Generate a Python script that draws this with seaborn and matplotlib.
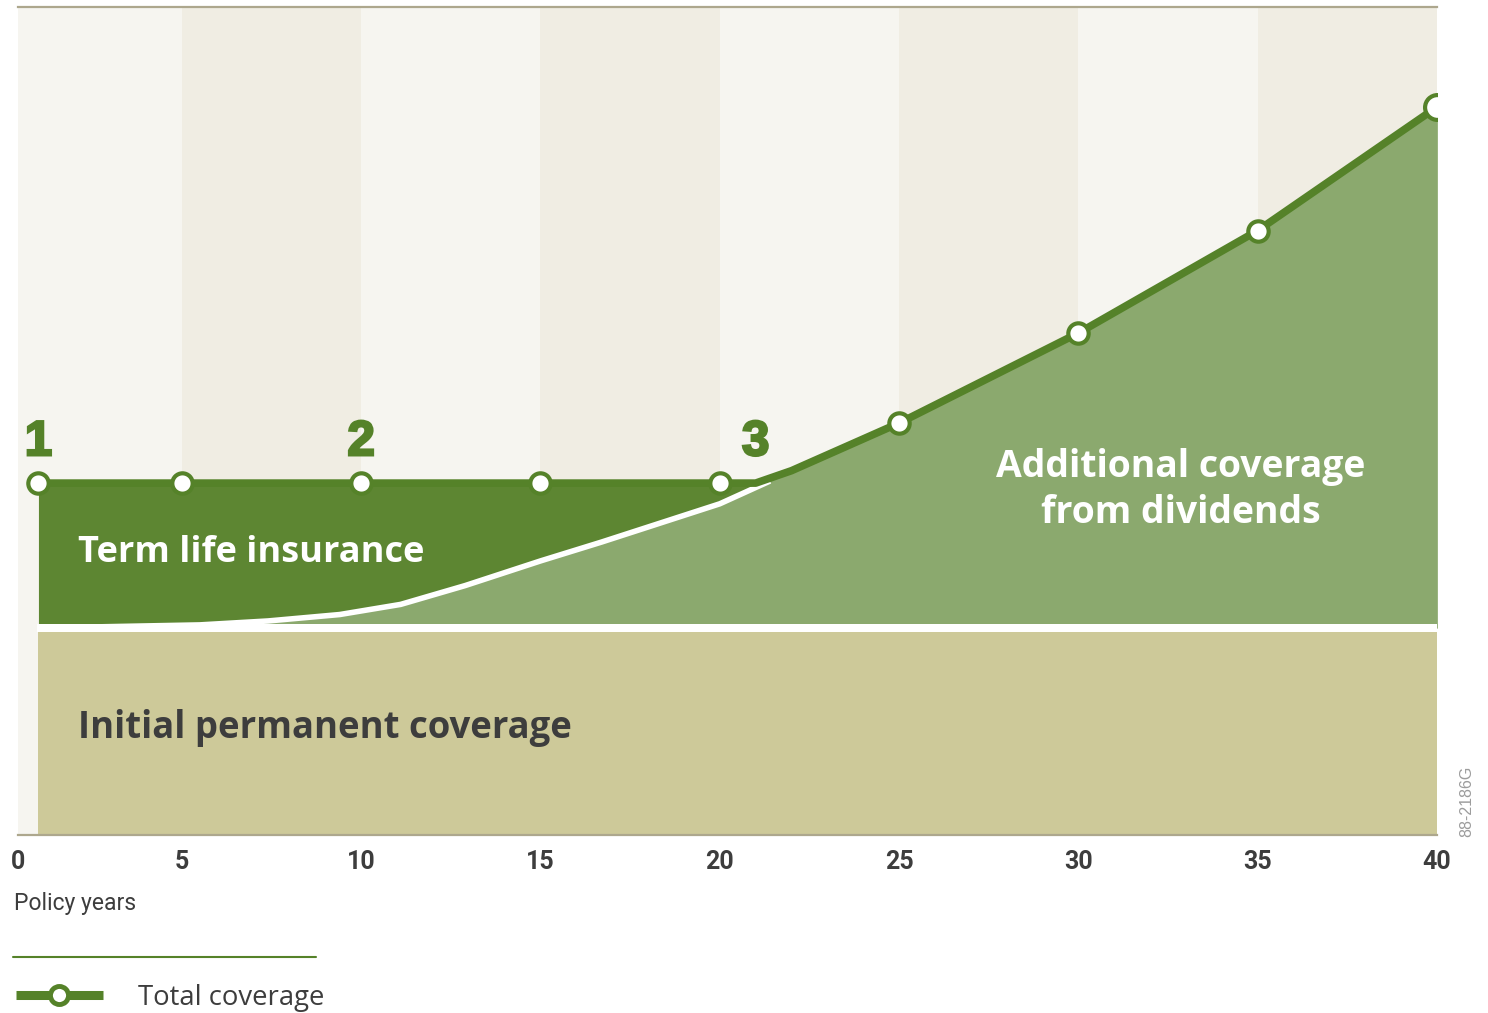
import matplotlib
matplotlib.use("Agg")
import matplotlib.pyplot as plt
from matplotlib.lines import Line2D
import matplotlib.patheffects as pe
import numpy as np
import pandas as pd
import seaborn as sns

# ---- data (coverage in relative units, initial permanent coverage = 100) ----
permanent_coverage = 100
permanent_years = [1, 40]

total_years = [1, 5, 10, 15, 20, 21, 22, 25, 30, 35, 40]
total_coverage = [170, 170, 170, 170, 170, 170, 176, 199, 242.5, 292, 351.7]

marker_years = [1, 5, 10, 15, 20, 25, 30, 35, 40]

dividend_years = [1, 5.5, 7.4, 9.4, 11.1, 12.9, 15, 16.7, 20, 21.4, 22, 25, 30, 35, 40]
dividend_coverage = [100, 101.5, 103.4, 106.5, 111.4, 120.5, 132.4, 141.5, 160, 171,
                     176, 199, 242.5, 292, 351.7]

milestone_years = [1, 10, 21]
milestone_labels = ["1", "2", "3"]

tick_years = [0, 5, 10, 15, 20, 25, 30, 35, 40]
tick_labels = ["0", "5", "10", "15", "20", "25", "30", "35", "40"]

# ---- colours ----
LINE_GREEN = "#558229"
TERM_GREEN = "#5D8632"
DIV_GREEN = "#8BA96E"
TAN = "#CDC999"
STRIPE_LIGHT = "#F6F5F0"
STRIPE_DARK = "#F0EDE3"
TEXT_GREY = "#3D3D3D"
RULE = "#ADA78D"

sns.set_style("white")
plt.rcParams["font.family"] = ["Open Sans", "DejaVu Sans"]

W, H = 1488, 1013
fig = plt.figure(figsize=(W / 100, H / 100), dpi=100)
ax = fig.add_axes([18 / W, 1 - 835 / H, (1437 - 18) / W, (835 - 7) / H])

x_left = 0.43
ax.set_xlim(x_left, 40)
ax.set_ylim(0, 400)

# alternating five-year bands
edges = [x_left] + tick_years[1:]
for i in range(len(edges) - 1):
    ax.axvspan(edges[i], edges[i + 1], color=STRIPE_LIGHT if i % 2 == 0 else STRIPE_DARK,
               lw=0, zorder=0)

df_total = pd.DataFrame({"year": total_years, "coverage": total_coverage})
df_div = pd.DataFrame({"year": dividend_years, "coverage": dividend_coverage})

# stacked coverage areas
ax.fill_between(permanent_years, 0, permanent_coverage, color=TAN, lw=0, zorder=1)
ax.fill_between(df_total["year"], permanent_coverage, df_total["coverage"],
                color=TERM_GREEN, lw=0, zorder=1)
ax.fill_between(df_div["year"], permanent_coverage, df_div["coverage"],
                color=DIV_GREEN, lw=0, zorder=2)

# white separators
ax.fill_between([0.95, 40], permanent_coverage - 2, permanent_coverage + 2,
                color="white", lw=0, zorder=3)
div_edge = df_div[df_div["year"] <= 21.4]
ax.plot(div_edge["year"], div_edge["coverage"], color="white", lw=4, zorder=3,
        solid_capstyle="butt", solid_joinstyle="round")

# total coverage line with markers
sns.lineplot(data=df_total, x="year", y="coverage", ax=ax, color=LINE_GREEN,
             lw=5.5, zorder=4, legend=False)
df_mark = df_total[df_total["year"].isin(marker_years)]
sns.scatterplot(data=df_mark.iloc[:-1], x="year", y="coverage", ax=ax, s=215,
                color="white", edgecolor=LINE_GREEN, linewidth=3.0, zorder=5,
                legend=False)
sns.scatterplot(data=df_mark.iloc[-1:], x="year", y="coverage", ax=ax, s=320,
                color="white", edgecolor=LINE_GREEN, linewidth=3.0, zorder=5,
                legend=False)

# milestone numbers (heavy numerals)
heavy = [pe.withStroke(linewidth=1.8, foreground=LINE_GREEN, joinstyle="miter")]
for yr, lab in zip(milestone_years, milestone_labels):
    ax.text(yr, 189.5, lab, ha="center", va="center", fontsize=35.5, fontweight="bold",
            color=LINE_GREEN, family=["Liberation Sans", "DejaVu Sans"], zorder=6,
            path_effects=heavy)

# area labels
ax.text(2.1, 131.9, "Term life insurance", ha="left", va="baseline", fontsize=26,
        fontweight="bold", color="white", zorder=6)
ax.text(2.1, 46.9, "Initial permanent coverage", ha="left", va="baseline",
        fontsize=26.3, fontweight="bold", color=TEXT_GREY, zorder=6)
ax.text(32.86, 173, "Additional coverage", ha="center", va="baseline", fontsize=26.9,
        fontweight="bold", color="white", zorder=6)
ax.text(32.86, 150.7, "from dividends", ha="center", va="baseline", fontsize=26.9,
        fontweight="bold", color="white", zorder=6)

# axes styling
for side in ["left", "right"]:
    ax.spines[side].set_visible(False)
for side in ["top", "bottom"]:
    ax.spines[side].set_color(RULE)
    ax.spines[side].set_linewidth(1.6)
    ax.spines[side].set_zorder(7)
ax.set_yticks([])
ax.set_xticks([x_left] + tick_years[1:])
ax.set_xticklabels(tick_labels)
ax.tick_params(axis="x", length=0, pad=11, labelsize=18, labelcolor=TEXT_GREY)
for lab in ax.get_xticklabels():
    lab.set_family(["Roboto", "DejaVu Sans"])
    lab.set_fontweight("bold")
ax.set_xlabel("")
ax.set_ylabel("")

fig.text(14 / W, 1 - 903 / H, "Policy years", ha="left", va="center", fontsize=16.5,
         color=TEXT_GREY, family=["Roboto", "DejaVu Sans"])

# legend
fig.add_artist(Line2D([13 / W, 316 / W], [1 - 957 / H] * 2, color=LINE_GREEN, lw=1.5))
handle = Line2D([], [], color=LINE_GREEN, lw=6.5, marker="o", markersize=13,
                markerfacecolor="white", markeredgecolor=LINE_GREEN,
                markeredgewidth=3.5, solid_capstyle="butt")
fig.legend(handles=[handle], labels=["Total coverage"], loc="center left",
           bbox_to_anchor=(16 / W, 1 - 998 / H), bbox_transform=fig.transFigure,
           frameon=False, fontsize=19.8, handlelength=3.16, handletextpad=1.27,
           borderpad=0, borderaxespad=0, labelcolor=TEXT_GREY)

fig.text(1467 / W, 1 - 801 / H, "88-2186G", rotation=90, ha="center", va="center",
         fontsize=11.5, color="#9C9C9C", family=["Liberation Sans", "DejaVu Sans"])

fig.savefig("out.png", dpi=100, facecolor="white")
